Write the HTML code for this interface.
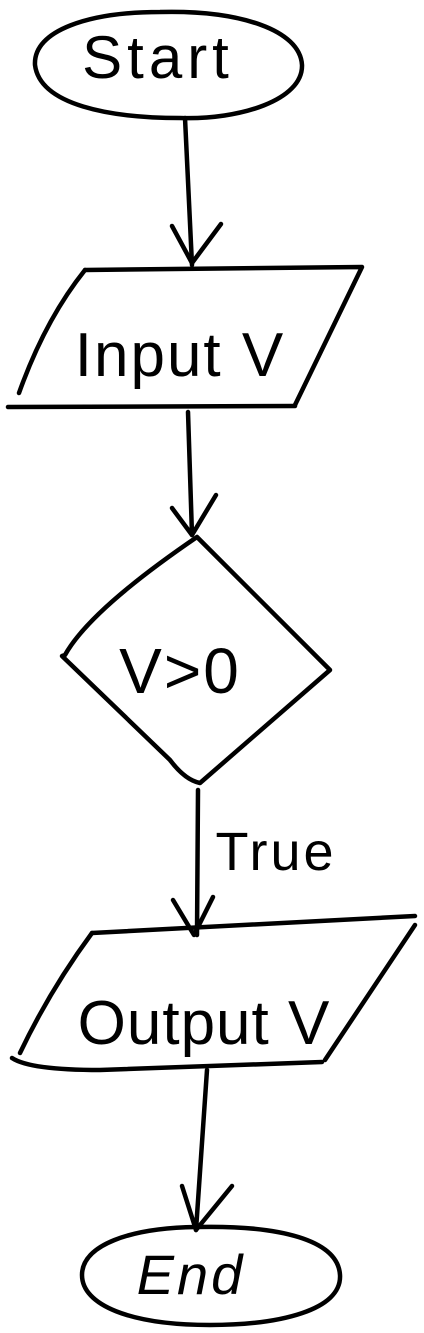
<!DOCTYPE html>
<html><head><meta charset="utf-8"><style>
html,body{margin:0;padding:0;background:#fff;width:424px;height:1333px;overflow:hidden}
svg text{font-family:"Liberation Sans",sans-serif;fill:#000}
</style></head><body>
<svg width="424" height="1333" viewBox="0 0 424 1333" fill="none" stroke="#000" stroke-width="4.5" stroke-linecap="round" stroke-linejoin="round">
<g>
<path d="M160,12 C240,10 300,30 302,65 C303,100 240,120 180,118 C110,118 40,105 35,65 C33,30 90,12 160,12 Z"/>
<text x="158" y="78" font-size="60" text-anchor="middle" stroke="none" letter-spacing="5">Start</text>
</g>
<g>
<path d="M185,118 L192,265"/><path d="M172,226 L192,263 L221,224"/>
</g>
<g>
<path d="M85,270 L362,267 L295,405"/><path d="M85,270 Q45,320 19,393"/><path d="M8,407 L295,406"/>
<text x="180" y="376" font-size="62" text-anchor="middle" stroke="none" letter-spacing="2">Input V</text>
</g>
<g>
<path d="M188,412 L192,535"/><path d="M172,508 L192,535 L216,495"/>
</g>
<g>
<path d="M197,537 L330,670 L200,783 Q185,780 170,760 L62,656 L65,655 Q90,610 197,537 Z"/>
<text x="180" y="693" font-size="64" text-anchor="middle" stroke="none" letter-spacing="2">V&gt;0</text>
</g>
<g>
<path d="M198,790 L197,935"/><path d="M173,900 L194,935 L213,897"/>
<text x="276" y="870" font-size="54" text-anchor="middle" stroke="none" letter-spacing="3">True</text>
</g>
<g>
<path d="M92,933 L415,916"/><path d="M415,925 L325,1060"/><path d="M92,933 Q50,990 20,1053"/><path d="M12,1058 Q30,1070 100,1070 L322,1062"/>
<text x="204" y="1044" font-size="62" text-anchor="middle" stroke="none" letter-spacing="1">Output V</text>
</g>
<g>
<path d="M207,1070 L196,1230"/><path d="M182,1186 L196,1230 L232,1186"/>
</g>
<g>
<path d="M196,1227 C280,1225 338,1240 340,1275 C342,1310 280,1325 210,1325 C130,1325 82,1305 82,1275 C82,1245 130,1228 196,1227 Z"/>
<text x="191" y="1294" font-size="56" text-anchor="middle" stroke="none" font-style="italic" letter-spacing="3">End</text>
</g>
</svg>
</body></html>
